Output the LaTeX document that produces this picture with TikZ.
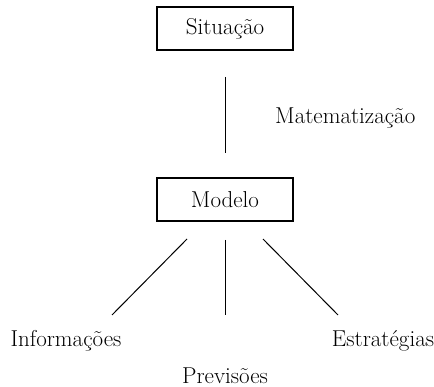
\documentclass[tikz,border=0pt]{standalone}
\begin{document}
\begin{tikzpicture}[x=1pt,y=-1pt,
  txt/.style={font=\fontsize{23}{27}\selectfont, inner sep=0pt},
  boxnode/.style={txt, draw, line width=1.2pt, minimum width=136pt, minimum height=43pt},
  link/.style={line width=1pt}]
\useasboundingbox (0,0) rectangle (434,387);
\node[boxnode] (sit) at (225,28.5) {Situação};
\node[boxnode] (mod) at (225,199.5) {Modelo};
\node[txt, anchor=west] (mat) at (275,118) {Matematização};
\node[txt] (inf) at (66,341) {Informações};
\node[txt] (pre) at (225,376) {Previsões};
\node[txt] (est) at (383,341) {Estratégias};
\coordinate (v1) at (225.5,77);
\coordinate (v2) at (225.5,153);
\coordinate (l1) at (187,239);
\coordinate (l2) at (112,315);
\coordinate (m1) at (225.5,240);
\coordinate (m2) at (225.5,315);
\coordinate (r1) at (263,239);
\coordinate (r2) at (338,315);
\draw[link] (v1) -- (v2);
\draw[link] (l1) -- (l2);
\draw[link] (m1) -- (m2);
\draw[link] (r1) -- (r2);
\end{tikzpicture}
\end{document}
